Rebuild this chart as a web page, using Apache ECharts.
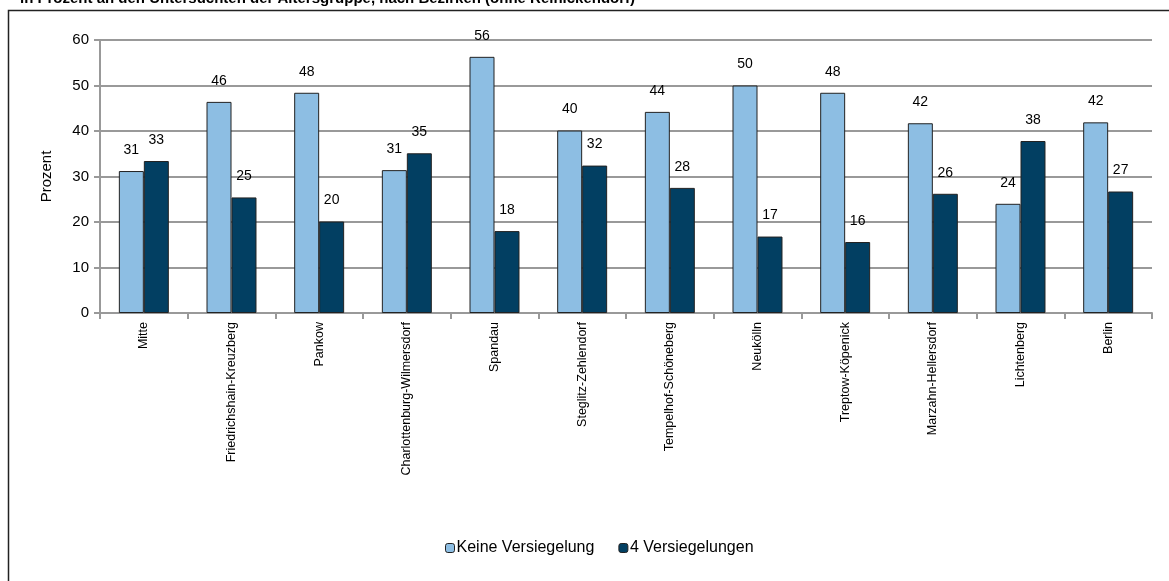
<!DOCTYPE html>
<html lang="de">
<head>
    <meta charset="UTF-8">
    <title>Versiegelungen nach Bezirken</title>
    <style>
        html, body { margin: 0; padding: 0; background: #fff; }
        #chart { width: 1169px; height: 581px; }
    </style>
    <script src="https://cdn.jsdelivr.net/npm/echarts@6/dist/echarts.min.js"></script>
</head>
<body>
<div id="chart"></div>
<script>
var bezirke = ['Mitte', 'Friedrichshain-Kreuzberg', 'Pankow', 'Charlottenburg-Wilmersdorf', 'Spandau',
    'Steglitz-Zehlendorf', 'Tempelhof-Schöneberg', 'Neukölln', 'Treptow-Köpenick', 'Marzahn-Hellersdorf',
    'Lichtenberg', 'Berlin'];
var keineVersiegelung = [31.2, 46.4, 48.4, 31.4, 56.3, 40.1, 44.2, 50.0, 48.4, 41.7, 24.0, 41.9];
var vierVersiegelungen = [33.4, 25.4, 20.1, 35.1, 18.0, 32.4, 27.5, 16.8, 15.6, 26.2, 37.8, 26.7];
var yTicks = [0, 10, 20, 30, 40, 50, 60];

var chart = echarts.init(document.getElementById('chart'));
var font = 'Liberation Sans, Arial, sans-serif';

function labelCfg() {
    return {
        show: true,
        position: 'top',
        distance: 14,
        color: '#000',
        fontFamily: font,
        fontSize: 14,
        formatter: function (p) { return Math.round(p.value); }
    };
}

chart.setOption({
    animation: false,
    textStyle: { fontFamily: font },
    graphic: [
        {
            type: 'rect',
            shape: { x: 8.5, y: 10.5, width: 1300, height: 700 },
            style: { fill: 'none', stroke: '#222', lineWidth: 1.5 },
            silent: true
        },
        {
            type: 'text',
            left: 20,
            top: -9,
            style: {
                text: 'in Prozent an den Untersuchten der Altersgruppe, nach Bezirken (ohne Reinickendorf)',
                font: 'bold 15px Liberation Sans, Arial, sans-serif',
                fill: '#000'
            }
        }
    ],
    legend: {
        bottom: 20,
        left: 440,
        itemWidth: 9,
        itemHeight: 9,
        itemGap: 24,
        textStyle: { fontSize: 16, color: '#000', fontFamily: font, padding: [0, 0, 0, -3] },
        data: [
            { name: 'Keine Versiegelung', itemStyle: { borderColor: '#222', borderWidth: 1 } },
            { name: '4 Versiegelungen', itemStyle: { borderColor: '#222', borderWidth: 1 } }
        ]
    },
    grid: { left: 100, right: 17, top: 40, bottom: 268 },
    xAxis: {
        type: 'category',
        data: bezirke,
        axisLine: { lineStyle: { color: '#999', width: 2 } },
        axisTick: { show: true, length: 6, lineStyle: { color: '#999', width: 2 } },
        axisLabel: { rotate: 90, margin: 9, fontSize: 12.5, color: '#000', fontFamily: font, interval: 0 }
    },
    yAxis: {
        type: 'value',
        min: yTicks[0],
        max: yTicks[yTicks.length - 1],
        interval: 10,
        name: 'Prozent',
        nameLocation: 'middle',
        nameGap: 46,
        nameTextStyle: { fontSize: 15, color: '#000', fontFamily: font },
        axisLine: { show: true, lineStyle: { color: '#999', width: 2 } },
        axisTick: { show: true, length: 6, lineStyle: { color: '#999', width: 2 } },
        axisLabel: { fontSize: 15, color: '#000', fontFamily: font, margin: 11 },
        splitLine: { lineStyle: { color: '#999', width: 2 } }
    },
    series: [
        {
            name: 'Keine Versiegelung',
            type: 'bar',
            data: keineVersiegelung,
            barGap: '0%',
            barCategoryGap: '43%',
            itemStyle: { color: '#8DBEE3', borderColor: '#222', borderWidth: 1 },
            label: labelCfg()
        },
        {
            name: '4 Versiegelungen',
            type: 'bar',
            data: vierVersiegelungen,
            itemStyle: { color: '#023F62', borderColor: '#222', borderWidth: 1 },
            label: labelCfg()
        }
    ]
});
</script>
</body>
</html>
